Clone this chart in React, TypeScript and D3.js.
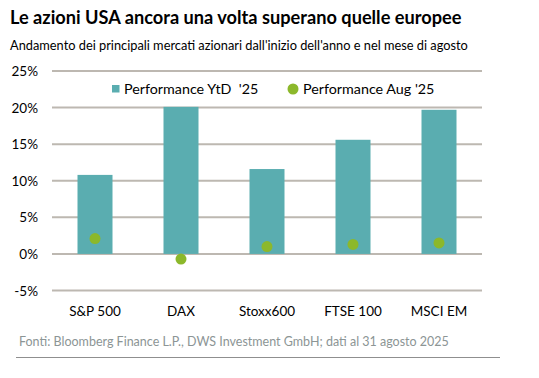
import React from "react";
import * as d3 from "d3";

const categories = ["S&P 500", "DAX", "Stoxx600", "FTSE 100", "MSCI EM"];
const ytdValues = [10.8, 20.1, 11.6, 15.6, 19.7];
const augValues = [2.1, -0.7, 1.0, 1.3, 1.5];
const yTicks = [-5, 0, 5, 10, 15, 20, 25];
const legendLabels = ["Performance YtD  '25", "Performance Aug '25"];

const W = 539;
const H = 378;
const TEAL = "#5aadb0";
const GREEN = "#8cb82b";
const GRID = "#bdb8b1";
const FONT = "Lato, 'Open Sans', sans-serif";

export default function App() {
  const x = d3.scaleBand<string>().domain(categories).range([52, 482]).paddingInner(0.6).paddingOuter(0.3);
  const y = d3.scaleLinear().domain([-5, 25]).range([290.5, 71]);
  const bw = x.bandwidth();

  return (
    <svg width={W} height={H} style={{ position: "absolute", left: 0, top: 0, background: "#fff" }} fontFamily={FONT}>
      <text x={10} y={24} fontSize={18.2} fontWeight={700} fill="#000">
        Le azioni USA ancora una volta superano quelle europee
      </text>
      <text x={10} y={50} fontSize={12.8} fill="#000">
        Andamento dei principali mercati azionari dall'inizio dell'anno e nel mese di agosto
      </text>
      {yTicks.map((t) => (
        <g key={t}>
          <line x1={52} x2={482} y1={y(t)} y2={y(t)} stroke={GRID} strokeWidth={2} />
          <text x={38} y={y(t) + 5} fontSize={13.5} textAnchor="end" fill="#000">
            {t}%
          </text>
        </g>
      ))}
      {categories.map((c, i) => {
        const cx = (x(c) as number) + bw / 2;
        const v = ytdValues[i];
        return (
          <g key={c}>
            <rect x={cx - 17.5} width={35} y={y(Math.max(0, v))} height={Math.abs(y(v) - y(0))} fill={TEAL} />
            <circle cx={cx} cy={y(augValues[i])} r={5.5} fill={GREEN} />
            <text x={cx} y={316} fontSize={13.5} textAnchor="middle" fill="#000">
              {c}
            </text>
          </g>
        );
      })}
      <rect x={74} y={80} width={210} height={20} fill="#fff" />
      <rect x={112} y={85} width={7.5} height={7.5} fill={TEAL} />
      <text x={124} y={94} fontSize={14.3} fill="#000" style={{ whiteSpace: "pre" }}>
        {legendLabels[0]}
      </text>
      <rect x={284} y={80} width={160} height={20} fill="#fff" />
      <circle cx={293} cy={89} r={5.5} fill={GREEN} />
      <text x={303} y={94} fontSize={14.3} fill="#000" style={{ whiteSpace: "pre" }}>
        {legendLabels[1]}
      </text>
      <text x={19} y={346} fontSize={12.5} fill="#8c9595">
        Fonti: Bloomberg Finance L.P., DWS Investment GmbH; dati al 31 agosto 2025
      </text>
      <line x1={16} x2={500} y1={357.5} y2={357.5} stroke="#8f8f8f" strokeWidth={1} />
    </svg>
  );
}
